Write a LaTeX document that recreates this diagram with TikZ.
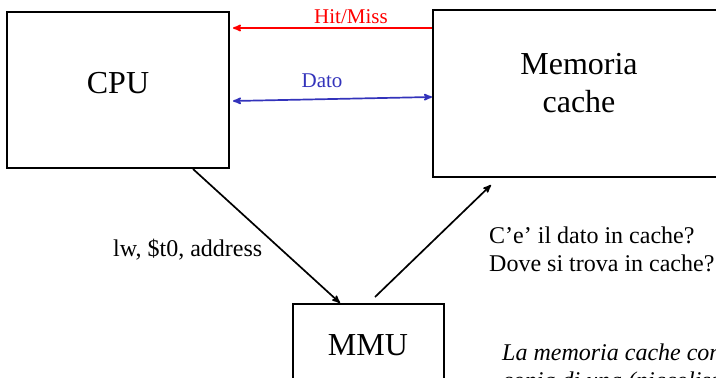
\documentclass[tikz,border=0pt]{standalone}
\usepackage{fontspec}
\setmainfont{Liberation Serif}
\usetikzlibrary{arrows,positioning,calc}
\definecolor{datoblue}{RGB}{51,51,187}
\tikzset{box/.style={rectangle,draw,line width=2pt,inner sep=0pt},
         big/.style={font=\fontsize{32}{38}\selectfont,inner sep=0pt},
         mid/.style={font=\fontsize{24}{28}\selectfont,inner sep=0pt},
         small/.style={font=\fontsize{21}{25}\selectfont,inner sep=0pt},
         post/.style={->,>=stealth',line width=1.7pt}
}
\begin{document}
\begin{tikzpicture}[x=1pt,y=-1pt]
  \useasboundingbox (0,0) rectangle (716,378);
  \clip (0,0) rectangle (716,378);
  % blocchi
  \node[box, minimum width=222pt, minimum height=156pt] (cpu) at (118,90) {};
  \node[box, minimum width=300pt, minimum height=167pt] (cache) at (583,93.5) {};
  \node[box, minimum width=151pt, minimum height=150pt] (mmu) at (368.5,379) {};
  \node[big] (cputxt) at (118,83) {CPU};
  \node[big, align=center] (cachetxt) at (579,83) {Memoria\\cache};
  \node[big] (mmutxt) at (368,345) {MMU};
  % segnali tra CPU e cache
  \draw[post, red] ([yshift=-19pt]cache.north west) -- ([xshift=3pt,yshift=-17pt]cpu.north east);
  \draw[post, <->, datoblue] ([xshift=3pt,yshift=-90pt]cpu.north east) -- ([yshift=-88pt]cache.north west);
  \node[small, red] (hitmiss) at (351,17) {Hit/Miss};
  \node[small, datoblue] (dato) at (322,81) {Dato};
  % indirizzo verso la MMU e poi verso la cache
  \draw[post] ([xshift=75pt]cpu.south) -- ([xshift=-28.5pt]mmu.north);
  \draw[post] ([xshift=6.5pt,yshift=6pt]mmu.north) -- ([xshift=-92pt,yshift=-7pt]cache.south);
  \node[mid, anchor=base west] (lw) at (113,256) {lw, \$t0, address};
  \node[mid, anchor=base west, align=left] (domande) at (489,271) {C’e’ il dato in cache?\\Dove si trova in cache?};
  \node[mid, anchor=base west, align=left, font=\fontsize{24}{28}\selectfont\itshape] (nota) at (502,388)
       {La memoria cache contiene una\\copia di una (piccolissima) parte};
\end{tikzpicture}
\end{document}
